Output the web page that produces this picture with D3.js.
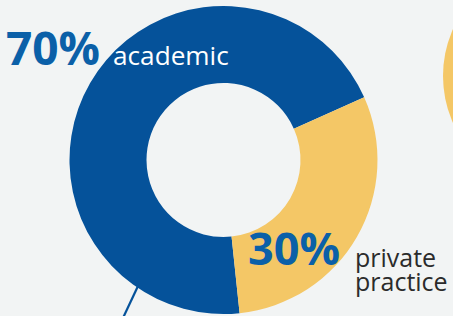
<!DOCTYPE html>
<html>
<head>
<meta charset="utf-8">
<script src="https://cdn.jsdelivr.net/npm/d3@7"></script>
<style>
  html, body { margin: 0; padding: 0; background: #f2f4f4; }
  svg { display: block; }
</style>
</head>
<body>
<div class="canvas"></div>
<script>
// the numbers
var categories = ['academic', 'private practice'],
    shares = [70, 30],
    colours = ['#05529a', '#f4c766'];

var width = 453,
    height = 316,
    cx = 223.5,
    cy = 160,
    outer = 154,
    inner = 77;

var svg = d3.select('.canvas').append('svg')
    .attr('width', width)
    .attr('height', height);

// big yellow disc peeking in from the right edge
svg.append('circle')
    .attr('cx', 558)
    .attr('cy', 76)
    .attr('r', 115)
    .attr('fill', colours[1]);

// leader line going out the bottom
svg.append('line')
    .attr('x1', 138).attr('y1', 286)
    .attr('x2', 123).attr('y2', 318)
    .attr('stroke', colours[0])
    .attr('stroke-width', 2.2);

var pie = d3.pie()
    .sort(null)
    .startAngle(174 * Math.PI / 180)
    .endAngle(174 * Math.PI / 180 + 2 * Math.PI);

var arc = d3.arc()
    .innerRadius(inner)
    .outerRadius(outer);

var g = svg.append('g')
    .attr('transform', 'translate(' + cx + ',' + cy + ')');

g.selectAll('path')
    .data(pie(shares))
    .enter()
    .append('path')
    .attr('d', arc)
    .attr('fill', function (d, i) { return colours[i]; });

// labels
var font = '"Open Sans", sans-serif';

svg.append('text')
    .attr('x', 6).attr('y', 65)
    .attr('font-family', font)
    .attr('font-weight', 700)
    .attr('font-size', 46)
    .attr('fill', '#0b60a8')
    .text(shares[0] + '%');

svg.append('text')
    .attr('x', 113).attr('y', 65)
    .attr('font-family', font)
    .attr('font-size', 26.2)
    .attr('fill', '#ffffff')
    .text(categories[0]);

svg.append('text')
    .attr('x', 248).attr('y', 265)
    .attr('font-family', font)
    .attr('font-weight', 700)
    .attr('font-size', 45)
    .attr('fill', '#0b60a8')
    .text(shares[1] + '%');

var words = categories[1].split(' ');
var lbl = svg.append('text')
    .attr('x', 355).attr('y', 267)
    .attr('font-family', font)
    .attr('font-size', 25)
    .attr('fill', '#2b2b2b');
lbl.selectAll('tspan')
    .data(words)
    .enter()
    .append('tspan')
    .attr('x', 355)
    .attr('dy', function (d, i) { return i ? 23.5 : 0; })
    .text(function (d) { return d; });
</script>
</body>
</html>
